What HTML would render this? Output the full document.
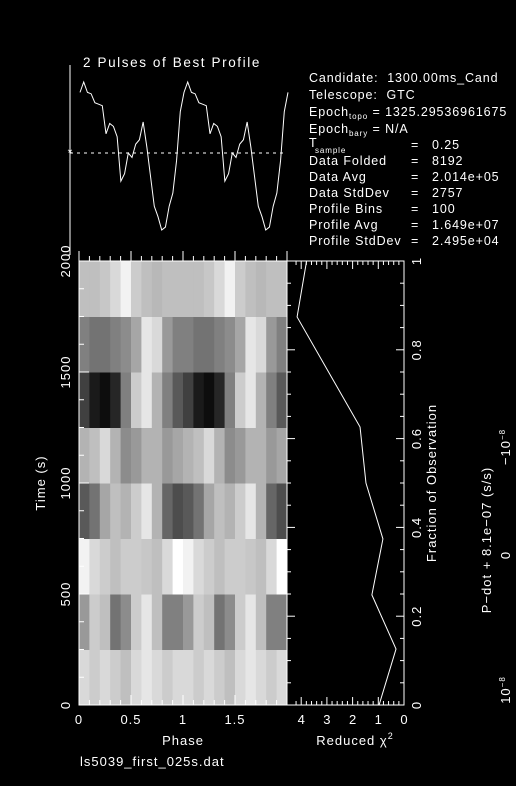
<!DOCTYPE html>
<html><head><meta charset="utf-8">
<style>
html,body{margin:0;padding:0;background:#000;}
svg{display:block;}
text{font-family:"Liberation Sans",sans-serif;fill:#fff;}
</style></head>
<body>
<svg id="plot" width="516" height="786" viewBox="0 0 516 786" xmlns="http://www.w3.org/2000/svg">
<rect width="516" height="786" fill="#000"/>
<g id="heat"></g>
<g id="axes" stroke="#fff" fill="none" stroke-width="1"></g>
<g id="prof"></g>
<g id="chi"></g>
<text x="83" y="67" font-size="13.5" letter-spacing="1.6">2 Pulses of Best Profile</text>
<g font-size="12.5" letter-spacing="0.9">
<text x="309" y="82" xml:space="preserve">Candidate:  1300.00ms_Cand</text>
<text x="309" y="99" xml:space="preserve">Telescope:  GTC</text>
<text x="309" y="116">Epoch<tspan font-size="8" dy="3">topo</tspan><tspan dy="-3"> = 1325.29536961675</tspan></text>
<text x="309" y="133">Epoch<tspan font-size="8" dy="3">bary</tspan><tspan dy="-3"> = N/A</tspan></text>
<text x="309" y="147">T</text><text x="315" y="153" font-size="8">sample</text>
<text x="309" y="165">Data Folded</text>
<text x="309" y="181">Data Avg</text>
<text x="309" y="197">Data StdDev</text>
<text x="309" y="213">Profile Bins</text>
<text x="309" y="229">Profile Avg</text>
<text x="309" y="245">Profile StdDev</text>
<text x="411" y="149">=</text><text x="432" y="149">0.25</text>
<text x="411" y="165">=</text><text x="432" y="165">8192</text>
<text x="411" y="181">=</text><text x="432" y="181">2.014e+05</text>
<text x="411" y="197">=</text><text x="432" y="197">2757</text>
<text x="411" y="213">=</text><text x="432" y="213">100</text>
<text x="411" y="229">=</text><text x="432" y="229">1.649e+07</text>
<text x="411" y="245">=</text><text x="432" y="245">2.495e+04</text>
</g>
<g font-size="13" letter-spacing="1">
<text x="45" y="483" text-anchor="middle" transform="rotate(-90 45 483)">Time (s)</text>
<text x="183" y="745" text-anchor="middle">Phase</text>
<text x="355" y="745" text-anchor="middle">Reduced χ<tspan font-size="9" dy="-6">2</tspan></text>
<text x="436" y="483" text-anchor="middle" transform="rotate(-90 436 483)">Fraction of Observation</text>
<text x="491" y="540" text-anchor="middle" transform="rotate(-90 491 540)">P−dot + 8.1e−07 (s/s)</text>
<text x="510" y="690" text-anchor="middle" transform="rotate(-90 510 690)">10<tspan font-size="8" dy="-5">−8</tspan></text>
<text x="510" y="555" text-anchor="middle" transform="rotate(-90 510 555)">0</text>
<text x="510" y="447" text-anchor="middle" transform="rotate(-90 510 447)">−10<tspan font-size="8" dy="-5">−8</tspan></text>
<text x="80" y="766">ls5039_first_025s.dat</text>
</g>
<g id="labels" font-size="13"></g>
</svg>
<script>
// ---- data ----
const timeTicks = [0, 500, 1000, 1500, 2000];
const phaseTicks = [0, 0.5, 1, 1.5];
const phaseTickLabels = ["0", "0.5", "1", "1.5"];
const chiTicks = [4, 3, 2, 1, 0];
const fracTicks = [0, 0.2, 0.4, 0.6, 0.8, 1];
const fracTickLabels = ["0", "0.2", "0.4", "0.6", "0.8", "1"];
const chiFrac = [0, 0.126, 0.248, 0.374, 0.5, 0.626, 0.874, 1];
const chiVals = [0.97, 0.31, 1.25, 0.82, 1.48, 1.71, 4.16, 3.79];
const profileVals = [0.93,1.0,0.93,0.92,0.86,0.85,0.84,0.65,0.72,0.70,0.63,0.33,0.38,0.52,0.49,0.58,0.61,0.73,0.56,0.36,0.16,0.09,0.0,0.02,0.16,0.25,0.47,0.80,0.93];
// rows from t=0 upward, 10 phase bins per pulse
const heatRows = [
 [0.85,0.8,0.85,0.8,0.75,0.85,0.9,0.85,0.8,0.85],
 [0.6,0.8,0.75,0.45,0.55,0.8,0.9,0.75,0.5,0.5],
 [0.95,0.85,0.8,0.75,0.8,0.8,0.78,0.75,0.85,1.0],
 [0.35,0.45,0.65,0.75,0.7,0.8,0.9,0.7,0.4,0.3],
 [0.7,0.75,0.85,0.7,0.55,0.6,0.7,0.7,0.6,0.65],
 [0.25,0.1,0.05,0.15,0.5,0.8,0.9,0.7,0.5,0.35],
 [0.5,0.45,0.45,0.5,0.55,0.65,0.9,0.85,0.6,0.5],
 [0.75,0.75,0.78,0.85,0.95,0.8,0.75,0.72,0.75,0.75]
];
// ---- geometry ----
const X0=79, X1=287, Y0=705, Y1=261, CX0=404;
const xPhase = p => X0 + p*(X1-X0)/2;
const yTime = t => Y0 - t*(Y0-Y1)/2000;
const yFrac = f => Y0 - f*(Y0-Y1);
const xChi = c => CX0 - c*25.7;
const PY0=230, PY1=82;
const yProf = v => PY0 - v*(PY0-PY1);
const NS="http://www.w3.org/2000/svg";
function mk(tag, parent, attrs){const e=document.createElementNS(NS,tag);for(const k in attrs)e.setAttribute(k,attrs[k]);parent.appendChild(e);return e;}
const heat=document.getElementById('heat'), axes=document.getElementById('axes'), labels=document.getElementById('labels');
// heatmap
const nr=heatRows.length;
heatRows.forEach((row,ri)=>{
  const nb=row.length;
  for(let rep=0;rep<2;rep++){
    row.forEach((v,bi)=>{
      const p0=rep+bi/nb, p1=rep+(bi+1)/nb;
      const t0=ri*2000/nr, t1=(ri+1)*2000/nr;
      const g=Math.round(v*255);
      const r=mk('rect',heat,{x:xPhase(p0),y:yTime(t1),width:xPhase(p1)-xPhase(p0)+0.5,height:yTime(t0)-yTime(t1)+0.5,fill:`rgb(${g},${g},${g})`});
      
      
    });
  }
});
// axes frames
mk('rect',axes,{x:X0,y:Y1,width:X1-X0,height:Y0-Y1});
mk('rect',axes,{x:X1,y:Y1,width:CX0-X1,height:Y0-Y1});
mk('line',axes,{x1:70,y1:65,x2:70,y2:255});
mk('line',axes,{x1:63,y1:255,x2:70,y2:255});
// time ticks
for(let t=0;t<=2000;t+=125){const y=yTime(t);const L=t%500===0?10:5;mk('line',axes,{x1:X0,y1:y,x2:X0+L,y2:y});}
timeTicks.forEach(t=>{const y=yTime(t);const e=mk('text',labels,{x:70,y:y,'text-anchor':'middle','letter-spacing':1,transform:`rotate(-90 70 ${y})`});e.textContent=t;
 
 });
// phase ticks
for(let i=0;i<=20;i++){const p=i/10;const x=xPhase(p);const L=i%5===0?10:5;mk('line',axes,{x1:x,y1:Y0,x2:x,y2:Y0-L});mk('line',axes,{x1:x,y1:Y1,x2:x,y2:Y1-L});}
phaseTicks.forEach((p,i)=>{const e=mk('text',labels,{x:xPhase(p),y:724,'text-anchor':'middle','letter-spacing':1});e.textContent=phaseTickLabels[i];
 
 });
// chi ticks
for(let c=0;c<=4.4;c+=0.2){const x=xChi(c);const L=Math.abs(c-Math.round(c))<0.01?8:4;mk('line',axes,{x1:x,y1:Y0,x2:x,y2:Y0-L});mk('line',axes,{x1:x,y1:Y1,x2:x,y2:Y1+L});}
chiTicks.forEach(c=>{const e=mk('text',labels,{x:xChi(c),y:724,'text-anchor':'middle'});e.textContent=c;
 
 });
// fraction ticks
for(let i=0;i<=20;i++){const y=yFrac(i/20);const L=i%4===0?8:4;mk('line',axes,{x1:CX0,y1:y,x2:CX0-L,y2:y});mk('line',axes,{x1:X1,y1:y,x2:X1+L,y2:y});}
fracTicks.forEach((f,i)=>{const y=yFrac(f);const e=mk('text',labels,{x:421,y:y,'text-anchor':'middle','letter-spacing':1,transform:`rotate(-90 421 ${y})`});e.textContent=fracTickLabels[i];
 
 });
// chi line
const cpts=chiFrac.map((f,i)=>xChi(chiVals[i])+','+yFrac(f)).join(' ');
const cl=mk('polyline',document.getElementById('chi'),{points:cpts,fill:'none',stroke:'#fff','stroke-width':1});


// profile
const n=profileVals.length-1;
const pp=[];
for(let rep=0;rep<2;rep++){profileVals.forEach((v,i)=>{if(rep===1&&i===0)return;const ph=rep+i/n*1.0;pp.push((xPhase(ph)+1)+','+yProf(v));});}
const pl=mk('polyline',document.getElementById('prof'),{points:pp.join(' '),fill:'none',stroke:'#fff','stroke-width':1});


const avg=mk('line',document.getElementById('prof'),{x1:70,y1:153,x2:285,y2:153,stroke:'#fff','stroke-dasharray':'3,4'});


const star=mk('text',document.getElementById('prof'),{x:70,y:157,'text-anchor':'middle','font-size':12});
star.textContent='*';


</script>
</body></html>
